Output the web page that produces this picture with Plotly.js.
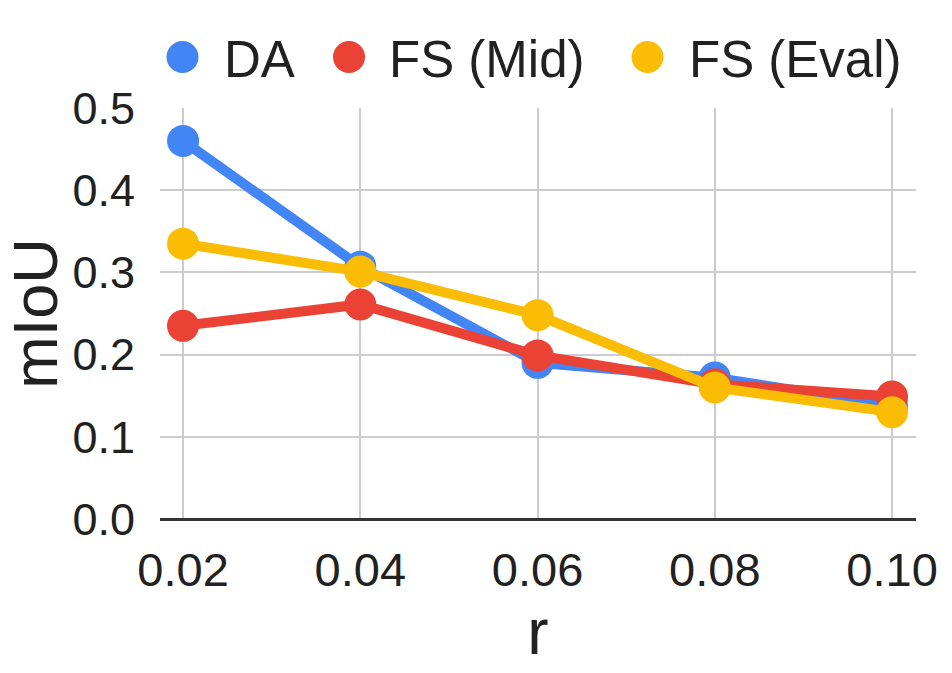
<!DOCTYPE html>
<html>
<head>
<meta charset="utf-8">
<script src="https://cdn.plot.ly/plotly-3.0.1.min.js"></script>
<style>
  html, body { margin: 0; padding: 0; background: #fff; }
  #chart { width: 952px; height: 673px; }
</style>
</head>
<body>
<div id="chart"></div>
<script>
// ---- data ----
const rValues = [0.02, 0.04, 0.06, 0.08, 0.10];
const rTickLabels = ['0.02', '0.04', '0.06', '0.08', '0.10'];
const daValues = [0.460, 0.307, 0.190, 0.172, 0.138];
const fsMidValues = [0.235, 0.261, 0.199, 0.164, 0.149];
const fsEvalValues = [0.335, 0.301, 0.248, 0.160, 0.130];
const yTickValues = [0, 0.1, 0.2, 0.3, 0.4, 0.5];
const yTickLabels = ['0.0', '0.1', '0.2', '0.3', '0.4', '0.5'];
const seriesNames = ['DA', 'FS (Mid)', 'FS (Eval)'];

// ---- styles ----
const colors = ['#4285F4', '#EA4335', '#FBBC04'];
const FONT = '"Liberation Sans", Arial, Helvetica, sans-serif';
const W = 952, H = 673;
const M = { l: 160, r: 36, t: 108, b: 154 };
const plotW = W - M.l - M.r, plotH = H - M.t - M.b;
const px2paperX = px => (px - M.l) / plotW;
const px2paperY = py => (H - M.b - py) / plotH;

const seriesValues = [daValues, fsMidValues, fsEvalValues];
const traces = seriesValues.map((vals, i) => ({
  type: 'scatter',
  mode: 'lines+markers',
  name: seriesNames[i],
  x: rValues,
  y: vals,
  line: { color: colors[i], width: 10 },
  marker: { color: colors[i], size: 32 },
  showlegend: false,
  hoverinfo: 'x+y+name'
}));

// custom legend (large circular swatches like the reference)
const legendItems = [
  { cx: 182.5, tx: 222 },
  { cx: 349, tx: 387 },
  { cx: 647.5, tx: 687 }
];
const legendY = 57;
const shapes = legendItems.map((it, i) => ({
  type: 'circle', xref: 'paper', yref: 'paper',
  xsizemode: 'pixel', ysizemode: 'pixel',
  xanchor: px2paperX(it.cx), yanchor: px2paperY(legendY),
  x0: -16, x1: 16, y0: -16, y1: 16,
  fillcolor: colors[i], line: { width: 0 }
}));
const annotations = legendItems.map((it, i) => ({
  xref: 'paper', yref: 'paper',
  x: px2paperX(it.tx), y: px2paperY(legendY + 2),
  xanchor: 'left', yanchor: 'middle',
  text: seriesNames[i], showarrow: false,
  font: { family: FONT, size: 51, color: '#212121' }
}));

const layout = {
  width: W, height: H,
  margin: M,
  paper_bgcolor: '#fff', plot_bgcolor: '#fff',
  font: { family: FONT, color: '#212121' },
  showlegend: false,
  xaxis: {
    range: [0.0174, 0.1027],
    tickvals: rValues,
    ticktext: rTickLabels,
    showgrid: true, gridcolor: '#cccccc', gridwidth: 2,
    zeroline: false, showline: false, ticks: '',
    ticklabelstandoff: 19,
    tickfont: { family: FONT, size: 47, color: '#212121' },
    title: { text: 'r', font: { family: FONT, size: 64, color: '#212121' }, standoff: 2 },
    automargin: false, fixedrange: true
  },
  yaxis: {
    range: [0, 0.5],
    tickvals: yTickValues,
    ticktext: yTickLabels,
    showgrid: true, gridcolor: '#cccccc', gridwidth: 2,
    zeroline: true, zerolinecolor: '#333333', zerolinewidth: 3,
    showline: false, ticks: '',
    ticklabelstandoff: 24,
    tickfont: { family: FONT, size: 45, color: '#212121' },
    title: { text: 'mIoU', font: { family: FONT, size: 63, color: '#212121' }, standoff: 2 },
    automargin: false, fixedrange: true
  },
  shapes: shapes,
  annotations: annotations
};

Plotly.newPlot('chart', traces, layout, { displayModeBar: false, staticPlot: true });
</script>
</body>
</html>
